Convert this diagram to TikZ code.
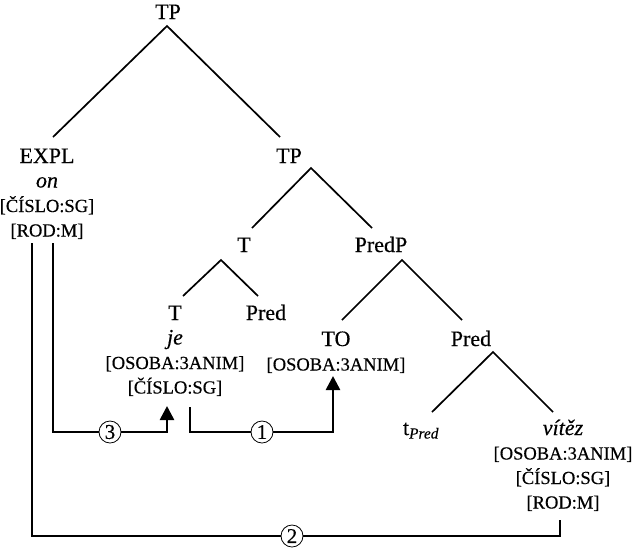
\documentclass[tikz,border=0pt]{standalone}
\usepackage{fontspec}
\setmainfont{Liberation Serif}[FakeBold=0.4]
\usetikzlibrary{arrows.meta}
\newcommand{\stk}[1]{\begin{tabular}[t]{@{}c@{}}#1\end{tabular}}
\newcommand{\ft}[1]{{\fontsize{18.5}{24.5}\selectfont #1}}
\tikzset{
  lab/.style={anchor=base, inner sep=0pt, font=\fontsize{22}{24.5}\selectfont},
  branch/.style={line width=1.7pt},
  conn/.style={line width=2.6pt},
  arr/.style={conn, -{Triangle[width=14pt,length=14pt]}},
  num/.style={circle, draw, line width=0.8pt, fill=white, minimum size=22pt, inner sep=0pt, font=\fontsize{21}{21}\selectfont}
}
\begin{document}
\begin{tikzpicture}[x=1pt,y=-1pt]
\useasboundingbox (0,0) rectangle (634,550);
% nodes
\node[lab] (tp1) at (168,19) {TP};
\node[lab] (expl) at (47,163) {\stk{EXPL\\\textit{on}\\\ft{[ČÍSLO:SG]}\\\ft{[ROD:M]}}};
\node[lab] (tp2) at (289,163) {TP};
\node[lab] (t1) at (244,252) {T};
\node[lab] (predp) at (381,252) {PredP};
\node[lab] (t2) at (175,320) {\stk{T\\\textit{je}\\\ft{[OSOBA:3ANIM]}\\\ft{[ČÍSLO:SG]}}};
\node[lab] (pred1) at (266,320) {Pred};
\node[lab] (to) at (336,346) {\stk{TO\\\ft{[OSOBA:3ANIM]}}};
\node[lab] (pred2) at (471,346) {Pred};
\node[lab] (trace) at (421,435) {t\textsubscript{\itshape Pred}};
\node[lab] (vitez) at (563,435) {\stk{\textit{vítěz}\\\ft{[OSOBA:3ANIM]}\\\ft{[ČÍSLO:SG]}\\\ft{[ROD:M]}}};
% branch coordinates
\coordinate (tp1b) at (167,26);
\coordinate (explt) at (53,137);
\coordinate (tp2t) at (280,137);
\coordinate (tp2b) at (311,168);
\coordinate (t1t) at (252,228);
\coordinate (predpt) at (372,228);
\coordinate (t1b) at (221,260);
\coordinate (t2t) at (183,296);
\coordinate (pred1t) at (258,296);
\coordinate (predpb) at (402,260);
\coordinate (tot) at (342,320);
\coordinate (pred2t) at (462,320);
\coordinate (pred2b) at (493,352);
\coordinate (tracet) at (432,412);
\coordinate (vitezt) at (553,412);
\draw[branch] (explt) -- (tp1b) -- (tp2t);
\draw[branch] (t1t) -- (tp2b) -- (predpt);
\draw[branch] (t2t) -- (t1b) -- (pred1t);
\draw[branch] (tot) -- (predpb) -- (pred2t);
\draw[branch] (tracet) -- (pred2b) -- (vitezt);
% connector coordinates
\coordinate (c2a) at (32,243);
\coordinate (c2b) at (560,536);
\coordinate (c2c) at (560,520);
\coordinate (c3a) at (53,243);
\coordinate (c3b) at (167,432);
\coordinate (c3c) at (167,406);
\coordinate (c1a) at (190,407);
\coordinate (c1b) at (333,432);
\coordinate (c1c) at (333,376);
\draw[conn] (c2a) |- (c2b) -- (c2c);
\draw[arr] (c3a) |- (c3b) -- (c3c);
\draw[arr] (c1a) |- (c1b) -- (c1c);
\node[num] (n3) at (110,432) {3};
\node[num] (n1) at (262,432) {1};
\node[num] (n2) at (292,536) {2};
\end{tikzpicture}
\end{document}
